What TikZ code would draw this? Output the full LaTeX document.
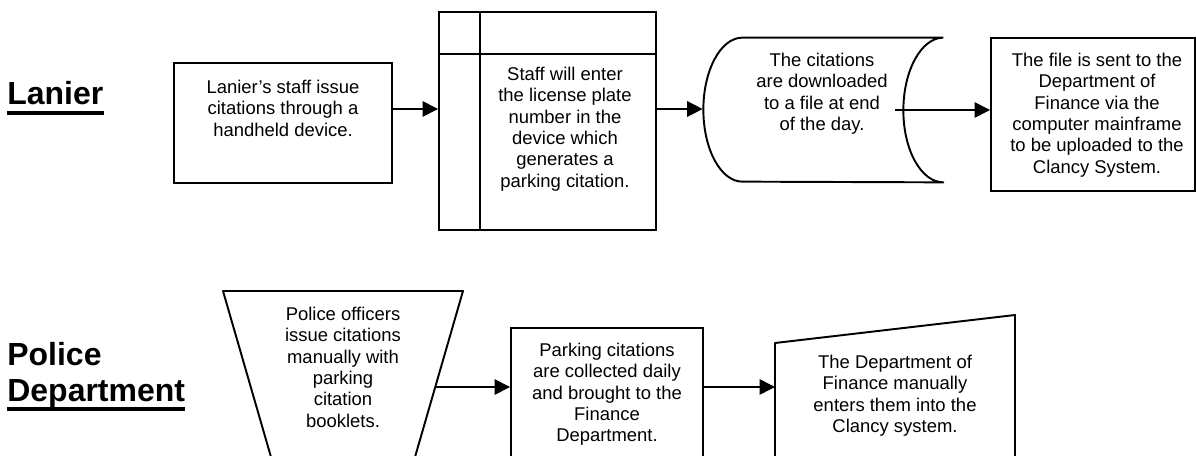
\documentclass[tikz,border=0pt]{standalone}
\usepackage{fontspec}
\setmainfont{Liberation Sans}
\usetikzlibrary{arrows.meta,calc}

\begin{document}
\begin{tikzpicture}[every node/.style={font=\fontsize{10.5}{12.1}\selectfont, align=center, inner sep=0}, x=0.02cm, y=-0.02cm,
	box/.style={draw, line width=1.1pt},
	outline/.style={line width=1.1pt, line join=round},
	flow/.style={line width=0.85pt, -{Triangle[length=8.8pt, width=8.8pt]}},
	lane/.style={font=\bfseries\fontsize{18.2}{21}\selectfont, anchor=base west},
	uline/.style={line width=2pt}]
	\def\px{0.02cm}
	\useasboundingbox (0,0) rectangle (1196,456);
	\clip (0,0) rectangle (1196,456);

	\node[lane] (lanier) at (7,105) {Lanier};
	\draw[uline] ([yshift=-4.5pt]lanier.base west) -- ([yshift=-4.5pt]lanier.base east);
	\node[lane] (police) at (7,365) {Police};
	\node[lane] (dept) at (7,401) {Department};
	\draw[uline] ([yshift=-4.5pt]dept.base west) -- ([yshift=-4.5pt]dept.base east);

	% Lanier
	\coordinate (toprow) at (0,109);
	\node[box, minimum width=218*\px, minimum height=120*\px] (lan1) at (283,123) {};
	\node[anchor=north] (lan1txt) at (283,80) {Lanier's staff issue\\citations through a\\handheld device.};

	\node[box, minimum width=217*\px, minimum height=218*\px] (lan2) at (547.5,121) {};
	\draw[outline] ($(lan2.north west)+(42,0)$) -- ($(lan2.south west)+(42,0)$);
	\draw[outline] ($(lan2.north west)+(0,43)$) -- ($(lan2.north east)+(0,43)$);
	\node[anchor=north] (lan2txt) at (565,67) {Staff will enter\\the license plate\\number in the\\device which\\generates a\\parking citation.};

	\node[minimum width=240*\px, minimum height=144*\px] (store) at (823,110) {};
	\draw[outline] (store.north east) -- ++(-201,0)
		.. controls ++(-21.5,0) and ++(0,-39.8) .. ++(-39,72)
		.. controls ++(0,39.8) and ++(-21.5,0) .. ++(39,72) -- (store.south east)
		.. controls ++(-22,0) and ++(0,40) .. ++(-40,-72)
		.. controls ++(0,-40) and ++(-22,0) .. (store.north east);
	\node[anchor=north] (storetxt) at (822,53) {The citations\\are downloaded\\to a file at end\\of the day.};

	\node[box, minimum width=204*\px, minimum height=153*\px] (lan4) at (1093,114.5) {};
	\node[anchor=north] (lan4txt) at (1097,53) {The file is sent to the\\Department of\\Finance via the\\computer mainframe\\to be uploaded to the\\Clancy System.};

	\draw[flow] (lan1.east |- toprow) -- (lan2.west |- toprow);
	\draw[flow] (lan2.east |- toprow) -- (store.west |- toprow);
	\draw[flow] ($(store.east)+(-48,0)$) -- (lan4.west |- store.east);

	% Police Department
	\draw[outline] (223,291) -- (463,291) -- coordinate (pd1out) (407.5,483) -- (278.5,483) -- cycle;
	\node[anchor=north] (pd1) at (343,307) {Police officers\\issue citations\\manually with\\parking\\citation\\booklets.};

	\node[box, minimum width=192*\px, minimum height=155*\px] (pd2) at (607,405.5) {};
	\node[anchor=north] (pd2txt) at (607,343) {Parking citations\\are collected daily\\and brought to the\\Finance\\Department.};

	\draw[outline] (775,483) coordinate (pd3-sw) -- (775,343) -- (1015,315) -- (1015,483) -- cycle;
	\node[anchor=north] (pd3) at (895,355) {The Department of\\Finance manually\\enters them into the\\Clancy system.};

	\draw[flow] (pd1out) -- (pd2.west |- pd1out);
	\draw[flow] (pd2.east |- pd1out) -- (pd3-sw |- pd1out);

\end{tikzpicture}
\end{document}
